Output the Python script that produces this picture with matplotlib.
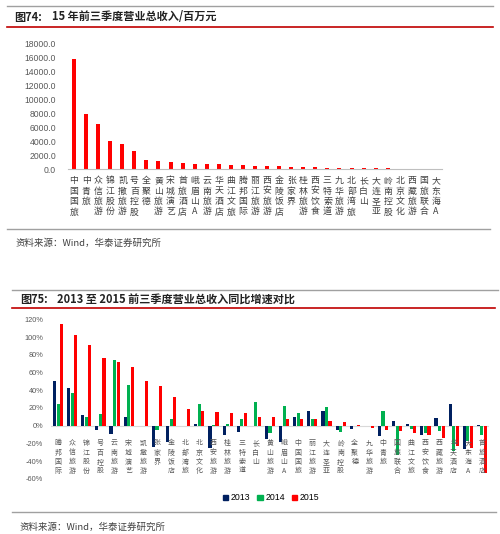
import matplotlib
matplotlib.use("Agg")
import matplotlib.pyplot as plt
from matplotlib.lines import Line2D
from matplotlib.patches import Patch
import numpy as np

plt.rcParams['font.family'] = ['Noto Sans CJK SC', 'DejaVu Sans']

# ---------------- data: chart 74 ----------------
rev_names = ["中国国旅", "中青旅", "众信旅游", "锦江股份", "凯撒旅游", "号百控股", "全聚德",
             "黄山旅游", "宋城演艺", "首旅酒店", "峨眉山A", "云南旅游", "华天酒店", "曲江文旅",
             "腾邦国际", "丽江旅游", "西安旅游", "金陵饭店", "张家界", "桂林旅游", "西安饮食",
             "三特索道", "九华旅游", "北部湾旅", "长白山", "大连圣亚", "岭南控股", "北京文化",
             "西藏旅游", "国旅联合", "大东海A"]
rev_values = [15800, 7860, 6400, 4030, 3600, 2680, 1310, 1120, 1100, 880, 740, 730, 730, 650,
              640, 480, 430, 430, 380, 290, 290, 240, 230, 190, 190, 180, 120, 100, 30, 20, 10]
rev_ticks = [0, 2000, 4000, 6000, 8000, 10000, 12000, 14000, 16000, 18000]

# ---------------- data: chart 75 ----------------
g_names = ["腾邦国际", "众信旅游", "锦江股份", "号百控股", "云南旅游", "宋城演艺", "凯撒旅游",
           "张家界", "金陵饭店", "北部湾旅", "北京文化", "西安旅游", "桂林旅游", "三特索道",
           "长白山", "黄山旅游", "峨眉山A", "中国国旅", "丽江旅游", "大连圣亚", "岭南控股",
           "全聚德", "九华旅游", "中青旅", "国旅联合", "曲江文旅", "西安饮食", "西藏旅游",
           "华天酒店", "大东海A", "首旅酒店"]
g2013 = [50.5, 43, 12, -4.5, -9, 10, 0, -24, -18, 0, 2, -25, -10, -7,
         0, -15, -18, 9.5, 17, 17, -4.5, -4, 0, -12, 5.7, 2, -10, 9, 24.5, -26, 0.8]
g2014 = [24, 37, 10, 13, 74, 46, 0, -4.5, 7, 0, 25, 0.5, 1.5, 7.5,
         27, -8, 22, 14, 7, 21.5, -7, -0.5, 0, 16, -33, -4, -8, -6, -29, -17, -11]
g2015 = [115, 102, 91, 76, 72, 66, 50, 45, 32, 19, 17, 15, 14, 14,
         10, 9.5, 8, 8, 7, 5.7, 4, 1, -2.5, -4.5, -6, -8, -10, -14, -23, -25, -54]
g_years = ["2013", "2014", "2015"]
g_ticks = [-60, -40, -20, 0, 20, 40, 60, 80, 100, 120]

W, H = 500, 534
fig = plt.figure(figsize=(W / 100, H / 100), dpi=100)
fig.patch.set_facecolor("white")


def fx(x):
    return x / W


def fy(y):
    return 1 - y / H


def hline(y, x0, x1, color, lw):
    fig.add_artist(Line2D([fx(x0), fx(x1)], [fy(y), fy(y)], transform=fig.transFigure,
                          color=color, lw=lw))


RED = "#FF0000"
BLUE = "#002060"
GREEN = "#00B050"
TXT = "#404040"

# ---------------- chart 74 ----------------
hline(6, 7, 493, "#A0A0A0", 1.0)
hline(26.5, 7, 493, "#C00000", 1.2)
fig.text(fx(14), fy(17), "图74:", fontsize=8, fontweight="bold", color="#222222", va="center")
fig.text(fx(52), fy(17), "15 年前三季度营业总收入/百万元", fontsize=8, fontweight="bold",
         color="#222222", va="center")

ax1 = fig.add_axes([fx(68), fy(169.3), (442 - 68) / W, (169.3 - 43.3) / H])
x1 = np.arange(len(rev_names))
ax1.bar(x1, rev_values, width=0.33, color=RED)
ax1.set_xlim(-0.5, len(rev_names) - 0.5)
ax1.set_ylim(0, 18000)
ax1.set_yticks(rev_ticks)
ax1.set_yticklabels([f"{v:.1f}" for v in rev_ticks], family="Liberation Sans", fontsize=6.2,
                    color="#595959")
ax1.tick_params(axis="y", length=0, pad=8.5)
ax1.set_xticks(x1)
ax1.set_xticklabels(["\n".join(n) for n in rev_names], fontsize=6.4, color=TXT,
                    va="top", linespacing=1.2)
ax1.tick_params(axis="x", length=0, pad=5)
for s in ["top", "right", "left"]:
    ax1.spines[s].set_visible(False)
ax1.spines["bottom"].set_color("#BFBFBF")
ax1.spines["bottom"].set_linewidth(0.8)

hline(228.5, 7, 490, "#A0A0A0", 1.0)
fig.text(fx(15), fy(243), "资料来源：Wind，华泰证券研究所", fontsize=6.8, color=TXT, va="center",
         style="italic")

# ---------------- chart 75 ----------------
hline(290, 12, 498, "#A0A0A0", 1.0)
hline(308, 12, 495, "#C00000", 1.2)
fig.text(fx(20), fy(300), "图75:", fontsize=8, fontweight="bold", color="#222222", va="center")
fig.text(fx(57), fy(300), "2013 至 2015 前三季度营业总收入同比增速对比", fontsize=8,
         fontweight="bold", color="#222222", va="center")

ax2 = fig.add_axes([fx(51), fy(478.8), (489 - 51) / W, (478.8 - 319.4) / H])
x2 = np.arange(len(g_names))
bw = 0.22
ax2.bar(x2 - 0.25, g2013, width=bw, color=BLUE, label=g_years[0], zorder=3)
ax2.bar(x2, g2014, width=bw, color=GREEN, label=g_years[1], zorder=3)
ax2.bar(x2 + 0.25, g2015, width=bw, color=RED, label=g_years[2], zorder=3)
ax2.axhline(0, color="#D9D9D9", lw=0.8, zorder=1)
ax2.set_xlim(-0.5, len(g_names) - 0.5)
ax2.set_ylim(-60, 120)
ax2.set_yticks(g_ticks)
ax2.set_yticklabels([f"{v}%" for v in g_ticks], family="Liberation Sans", fontsize=5.3,
                    color="#595959")
ax2.tick_params(axis="y", length=0, pad=5.5)
ax2.set_xticks([])
for s in ax2.spines.values():
    s.set_visible(False)
for i, n in enumerate(g_names):
    ax2.text(i, -15.5, "\n".join(n), fontsize=5.0, color="#595959", ha="center", va="top",
             linespacing=1.2, zorder=4)

handles = [Patch(color=BLUE), Patch(color=GREEN), Patch(color=RED)]
fig.legend(handles, g_years, loc="center", bbox_to_anchor=(fx(271), fy(498)), ncol=3,
           frameon=False, fontsize=6, handlelength=0.6, handleheight=0.6, handletextpad=0.3,
           columnspacing=0.8, prop={"family": "Liberation Sans", "size": 6.3})

hline(511.7, 12, 496, "#A0A0A0", 1.0)
fig.text(fx(20), fy(527), "资料来源：Wind，华泰证券研究所", fontsize=6.8, color=TXT, va="center",
         style="italic")

fig.savefig("out.png", dpi=100, facecolor="white")
